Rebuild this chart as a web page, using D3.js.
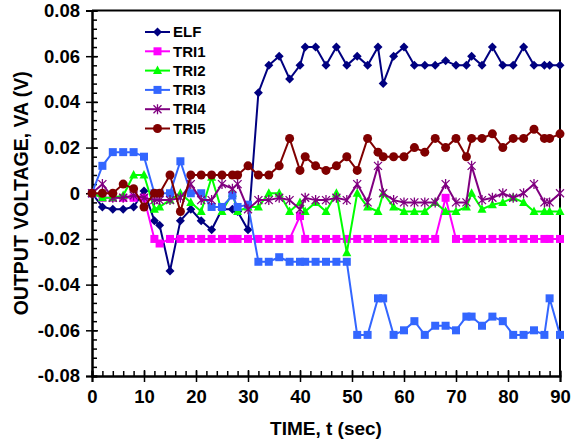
<!DOCTYPE html>
<html>
<head>
<meta charset="utf-8">
<script src="https://cdn.jsdelivr.net/npm/d3@7"></script>
<style>
  body { margin: 0; background: #fff; }
  text { font-family: "Liberation Sans", Arial, sans-serif; font-weight: bold; }
</style>
</head>
<body>
<div id="chart"></div>
<script>
// time points (sec)
const times = [0, 2, 4, 6, 8, 10, 12, 13, 15, 17, 19, 21, 23, 25, 27, 28, 30,
  32, 34, 36, 38, 40, 41, 43, 45, 47, 49, 51, 53, 55, 56, 58, 60,
  62, 64, 66, 68, 70, 72, 73, 75, 77, 79, 81, 83, 85, 87, 88, 90]

const elf = [0, -0.006, -0.007, -0.007, -0.006, 0.001, -0.012, -0.014, -0.034, -0.012, -0.007, -0.012, -0.016, -0.007, -0.007, -0.008, -0.016,
  0.044, 0.056, 0.060, 0.050, 0.056, 0.064, 0.064, 0.056, 0.064, 0.056, 0.060, 0.056, 0.064, 0.048, 0.060, 0.064,
  0.056, 0.056, 0.056, 0.058, 0.056, 0.056, 0.060, 0.056, 0.064, 0.056, 0.056, 0.064, 0.056, 0.056, 0.056, 0.056]

const tri1 = [0, -0.002, -0.002, -0.002, -0.002, -0.002, -0.020, -0.022, -0.020, -0.020, -0.020, -0.020, -0.020, -0.020, -0.020, -0.020, -0.020,
  -0.020, -0.020, -0.020, -0.020, -0.010, -0.020, -0.020, -0.020, -0.020, -0.020, -0.020, -0.020, -0.020, -0.020, -0.020, -0.020,
  -0.020, -0.020, -0.020, -0.002, -0.020, -0.020, -0.020, -0.020, -0.020, -0.020, -0.020, -0.020, -0.020, -0.020, -0.020, -0.020]

const tri2 = [0, -0.002, -0.002, -0.001, 0.008, 0.008, -0.007, -0.006, -0.003, 0, -0.004, -0.008, 0.007, -0.008, 0, -0.008, -0.006,
  -0.006, 0, 0, -0.008, -0.004, -0.008, -0.004, -0.008, 0, -0.026, 0, -0.006, -0.008, 0, -0.006, -0.008,
  -0.008, -0.008, -0.004, -0.008, -0.008, -0.006, 0, -0.007, -0.005, -0.004, -0.002, -0.004, -0.008, -0.008, -0.008, -0.008]

const tri3 = [0, 0.012, 0.018, 0.018, 0.018, 0.016, 0, 0, 0, 0.014, 0, 0, -0.006, -0.006, -0.001, -0.006, -0.005,
  -0.030, -0.030, -0.028, -0.030, -0.030, -0.030, -0.030, -0.030, -0.030, -0.030, -0.062, -0.062, -0.046, -0.046, -0.062, -0.060,
  -0.056, -0.062, -0.058, -0.058, -0.060, -0.054, -0.054, -0.058, -0.054, -0.056, -0.062, -0.062, -0.060, -0.062, -0.046, -0.062]

const tri4 = [0, 0.004, -0.002, -0.002, -0.001, -0.002, -0.003, -0.003, -0.003, -0.002, 0.004, -0.003, -0.003, 0.004, 0.002, 0.004, -0.007,
  -0.003, -0.003, -0.002, -0.003, -0.007, -0.002, -0.003, -0.003, -0.002, -0.003, 0.004, -0.004, 0.012, 0, -0.003, -0.004,
  -0.004, -0.004, -0.004, 0.004, -0.004, -0.004, 0.012, -0.003, -0.002, 0, -0.002, 0, 0.004, -0.004, -0.004, 0]

const tri5 = [0, 0, 0, 0.004, 0.002, -0.006, 0, 0, 0.008, -0.008, 0.008, 0.008, 0.008, 0.008, 0.008, 0.008, 0.012,
  0.008, 0.008, 0.012, 0.024, 0.010, 0.016, 0.012, 0.010, 0.012, 0.016, 0.010, 0.024, 0.018, 0.016, 0.016, 0.016,
  0.020, 0.018, 0.024, 0.020, 0.024, 0.016, 0.024, 0.024, 0.026, 0.020, 0.024, 0.024, 0.028, 0.024, 0.024, 0.026]

const seriesNames = ["ELF", "TRI1", "TRI2", "TRI3", "TRI4", "TRI5"]
const xTicks = [0, 10, 20, 30, 40, 50, 60, 70, 80, 90]
const yTicks = [-0.08, -0.06, -0.04, -0.02, 0, 0.02, 0.04, 0.06, 0.08]
const yTickLabels = ["-0.08", "-0.06", "-0.04", "-0.02", "0", "0.02", "0.04", "0.06", "0.08"]

const series = [
  { name: seriesNames[0], values: elf, color: "#000080", shape: "diamond" },
  { name: seriesNames[1], values: tri1, color: "#ff00ff", shape: "square" },
  { name: seriesNames[2], values: tri2, color: "#00ff00", shape: "triangle" },
  { name: seriesNames[3], values: tri3, color: "#3366ff", shape: "square" },
  { name: seriesNames[4], values: tri4, color: "#800080", shape: "star" },
  { name: seriesNames[5], values: tri5, color: "#800000", shape: "circle" }
]

var margin = { top: 10.5, right: 20, bottom: 66, left: 92 },
    width = 580 - margin.left - margin.right,
    height = 442 - margin.top - margin.bottom;

var svg = d3.select("#chart")
    .append("svg")
    .attr("width", 580)
    .attr("height", 442)
    .append("g")
    .attr("transform", "translate(" + margin.left + "," + margin.top + ")");

const x = d3.scaleLinear().domain([0, 90]).range([0, width])
const y = d3.scaleLinear().domain([-0.08, 0.08]).range([height, 0])

// draw one marker at 0,0
function marker(g, shape, color) {
    if (shape === "diamond") {
        g.append("path").attr("d", "M0,-4.5L4.5,0L0,4.5L-4.5,0Z").attr("fill", color)
    } else if (shape === "square") {
        g.append("rect").attr("x", -4).attr("y", -4).attr("width", 8).attr("height", 8).attr("fill", color)
    } else if (shape === "triangle") {
        g.append("path").attr("d", "M0,-5L4.5,3.5L-4.5,3.5Z").attr("fill", color)
    } else if (shape === "circle") {
        g.append("circle").attr("r", 4.5).attr("fill", color)
    } else if (shape === "star") {
        g.append("path").attr("d", "M-4,-4L4,4M-4,4L4,-4M0,-5L0,5")
            .attr("stroke", color).attr("stroke-width", 1.3).attr("fill", "none")
    }
}

// frame (top and right)
svg.append("path")
    .attr("d", "M0,0H" + width + "V" + height)
    .attr("fill", "none").attr("stroke", "#000").attr("stroke-width", 2)

// minor ticks
svg.append("g")
    .attr("transform", "translate(0," + height + ")")
    .call(d3.axisBottom(x).tickValues(d3.range(0, 91, 2)).tickSize(-5).tickFormat(""))
svg.append("g")
    .call(d3.axisLeft(y).tickValues(d3.range(-80, 81, 4).map(d => d / 1000)).tickSize(-5).tickFormat(""))

// major ticks + labels
var xAxis = svg.append("g")
    .attr("transform", "translate(0," + height + ")")
    .call(d3.axisBottom(x).tickValues(xTicks).tickSize(6).tickPadding(8).tickFormat(d => d))
xAxis.selectAll(".tick line").attr("y1", -6)

var yAxis = svg.append("g")
    .call(d3.axisLeft(y).tickValues(yTicks).tickSize(6).tickPadding(6)
        .tickFormat((d, i) => yTickLabels[i]))
yAxis.selectAll(".tick line").attr("x1", 6)

svg.selectAll(".domain").attr("stroke-width", 2)
svg.selectAll(".tick line").attr("stroke-width", 1.5)
svg.selectAll(".tick text")
    .style("font-size", "18.5px")
    .style("font-family", "Liberation Sans, Arial, sans-serif")
    .style("font-weight", "bold")
    .attr("fill", "#000")

// lines and markers
series.forEach(s => {
    svg.append("path")
        .datum(s.values)
        .attr("fill", "none")
        .attr("stroke", s.color)
        .attr("stroke-width", 2)
        .attr("d", d3.line()
            .x((d, i) => x(times[i]))
            .y(d => y(d))
        )
    svg.selectAll(null)
        .data(s.values)
        .enter()
        .append("g")
        .attr("transform", (d, i) => "translate(" + x(times[i]) + "," + y(d) + ")")
        .each(function () { marker(d3.select(this), s.shape, s.color) })
})

// legend
var legend = svg.append("g")
    .attr("transform", "translate(" + (145 - margin.left) + "," + (32 - margin.top) + ")")
series.forEach((s, i) => {
    var row = legend.append("g").attr("transform", "translate(0," + (i * 19.3) + ")")
    row.append("line").attr("x1", 0).attr("x2", 25).attr("stroke", s.color).attr("stroke-width", 2)
    marker(row.append("g").attr("transform", "translate(12.5,0)"), s.shape, s.color)
    row.append("text")
        .attr("x", 28)
        .attr("dy", "0.35em")
        .style("font-size", "15px")
        .text(s.name)
})

// axis titles
svg.append("text")
    .attr("x", width / 2)
    .attr("y", height + 59)
    .attr("text-anchor", "middle")
    .style("font-size", "19px")
    .text("TIME, t (sec)")

svg.append("text")
    .attr("transform", "translate(" + (21 - margin.left) + "," + (height / 2) + ") rotate(-90)")
    .attr("dy", "0.35em")
    .attr("text-anchor", "middle")
    .style("font-size", "19.5px")
    .text("OUTPUT VOLTAGE, VA (V)")
</script>
</body>
</html>
